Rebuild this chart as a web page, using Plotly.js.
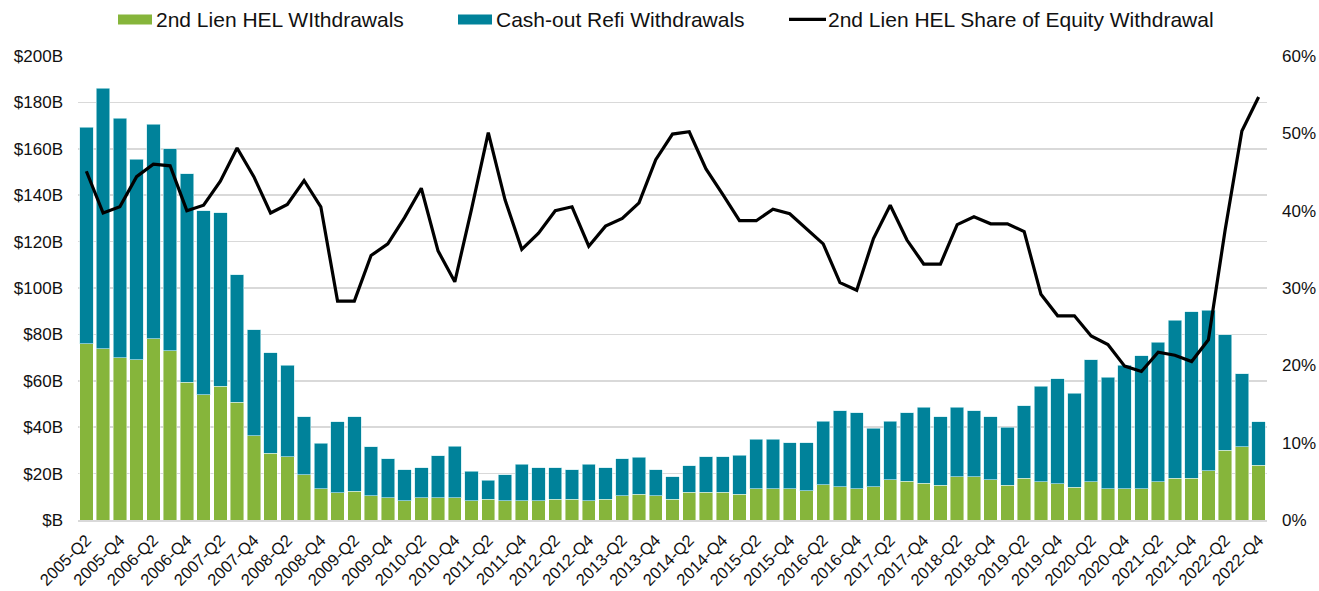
<!DOCTYPE html>
<html>
<head>
<meta charset="utf-8">
<script src="https://cdn.plot.ly/plotly-3.0.1.min.js"></script>
<style>
  html, body { margin: 0; padding: 0; background: #ffffff; }
  #chart { width: 1319px; height: 591px; }
</style>
</head>
<body>
<div id="chart"></div>
<script>
// Quarters (categories)
const quarters = [
  "2005-Q2","2005-Q3","2005-Q4",
  "2006-Q1","2006-Q2","2006-Q3","2006-Q4",
  "2007-Q1","2007-Q2","2007-Q3","2007-Q4",
  "2008-Q1","2008-Q2","2008-Q3","2008-Q4",
  "2009-Q1","2009-Q2","2009-Q3","2009-Q4",
  "2010-Q1","2010-Q2","2010-Q3","2010-Q4",
  "2011-Q1","2011-Q2","2011-Q3","2011-Q4",
  "2012-Q1","2012-Q2","2012-Q3","2012-Q4",
  "2013-Q1","2013-Q2","2013-Q3","2013-Q4",
  "2014-Q1","2014-Q2","2014-Q3","2014-Q4",
  "2015-Q1","2015-Q2","2015-Q3","2015-Q4",
  "2016-Q1","2016-Q2","2016-Q3","2016-Q4",
  "2017-Q1","2017-Q2","2017-Q3","2017-Q4",
  "2018-Q1","2018-Q2","2018-Q3","2018-Q4",
  "2019-Q1","2019-Q2","2019-Q3","2019-Q4",
  "2020-Q1","2020-Q2","2020-Q3","2020-Q4",
  "2021-Q1","2021-Q2","2021-Q3","2021-Q4",
  "2022-Q1","2022-Q2","2022-Q3","2022-Q4"
];

// 2nd Lien HEL withdrawals ($B)
const helWithdrawals = [
  76.0, 73.9, 70.0,
  69.1, 78.2, 73.0, 59.3,
  54.0, 57.6, 50.8, 36.3,
  28.7, 27.2, 19.4, 13.4,
  11.8, 12.5, 10.4, 9.6,
  8.2, 9.6, 9.6, 9.6,
  8.2, 8.9, 8.2, 8.2,
  8.2, 8.9, 8.9, 8.2,
  8.9, 10.4, 11.1, 10.4,
  8.9, 12.0, 12.0, 12.0,
  11.1, 13.5, 13.5, 13.5,
  12.7, 15.1, 14.3, 13.5,
  14.3, 17.4, 16.6, 15.8,
  15.0, 18.7, 18.7, 17.3,
  15.0, 18.0, 16.4, 15.7,
  14.1, 16.4, 13.4, 13.4,
  13.4, 16.4, 18.0, 18.0,
  21.2, 30.1, 31.5, 23.5
];

// Cash-out refi withdrawals ($B)
const cashoutWithdrawals = [
  93.2, 112.1, 103.1,
  86.4, 92.4, 87.1, 90.0,
  79.3, 74.9, 54.9, 45.8,
  43.4, 39.6, 25.2, 19.7,
  30.5, 32.1, 21.1, 16.7,
  13.4, 12.9, 18.2, 22.1,
  12.8, 8.2, 11.2, 15.8,
  14.3, 13.6, 12.8, 15.8,
  13.6, 15.9, 16.0, 11.3,
  9.8, 11.3, 15.2, 15.2,
  16.8, 21.3, 21.3, 19.9,
  20.7, 27.4, 32.8, 32.7,
  25.2, 25.1, 29.6, 32.7,
  29.6, 29.8, 28.4, 27.3,
  25.0, 31.2, 41.2, 45.1,
  40.5, 52.7, 48.1, 53.4,
  57.3, 60.3, 68.0, 71.7,
  69.2, 49.7, 31.6, 18.8
];

// 2nd Lien HEL share of equity withdrawal (%)
const helShare = [
  45.1, 39.7, 40.5,
  44.4, 46.0, 45.8, 40.0,
  40.7, 43.8, 48.1, 44.4,
  39.7, 40.8, 43.9, 40.5,
  28.3, 28.3, 34.2, 35.7,
  39.1, 42.9, 34.8, 30.8,
  40.2, 50.1, 41.4, 35.0,
  37.1, 40.0, 40.5, 35.4,
  38.0, 39.0, 41.0, 46.6,
  49.9, 50.2, 45.4, 42.1,
  38.7, 38.7, 40.2, 39.6,
  37.7, 35.7, 30.7, 29.7,
  36.4, 40.7, 36.2, 33.1,
  33.1, 38.2, 39.2, 38.3,
  38.3, 37.3, 29.2, 26.4,
  26.4, 23.8, 22.7, 19.9,
  19.2, 21.7, 21.3, 20.5,
  23.3, 37.5, 50.3, 54.7
];

// Axis tick labels
const xTickLabels = [
  "2005-Q2","2005-Q4","2006-Q2","2006-Q4","2007-Q2","2007-Q4",
  "2008-Q2","2008-Q4","2009-Q2","2009-Q4","2010-Q2","2010-Q4",
  "2011-Q2","2011-Q4","2012-Q2","2012-Q4","2013-Q2","2013-Q4",
  "2014-Q2","2014-Q4","2015-Q2","2015-Q4","2016-Q2","2016-Q4",
  "2017-Q2","2017-Q4","2018-Q2","2018-Q4","2019-Q2","2019-Q4",
  "2020-Q2","2020-Q4","2021-Q2","2021-Q4","2022-Q2","2022-Q4"
];
const yLeftTickVals = [0, 20, 40, 60, 80, 100, 120, 140, 160, 180, 200];
const yLeftTickText = ["$B","$20B","$40B","$60B","$80B","$100B","$120B","$140B","$160B","$180B","$200B"];
const yRightTickVals = [0, 10, 20, 30, 40, 50, 60];
const yRightTickText = ["0%","10%","20%","30%","40%","50%","60%"];

const seriesNames = ["2nd Lien HEL WIthdrawals", "Cash-out Refi Withdrawals", "2nd Lien HEL Share of Equity Withdrawal"];

const GREEN = "#86B53B";
const TEAL = "#00829A";
const FONT = "'Liberation Sans', Arial, sans-serif";

const traces = [
  {
    type: "bar", name: seriesNames[0], x: quarters, y: helWithdrawals,
    marker: { color: GREEN, line: { color: "rgba(255,255,255,0.55)", width: 0.8 } },
    hoverinfo: "x+y"
  },
  {
    type: "bar", name: seriesNames[1], x: quarters, y: cashoutWithdrawals,
    marker: { color: TEAL, line: { color: "rgba(200,235,240,0.8)", width: 0.8 } },
    hoverinfo: "x+y"
  },
  {
    type: "scatter", mode: "lines", name: seriesNames[2], x: quarters, y: helShare,
    yaxis: "y2", line: { color: "#000000", width: 3.2 }, hoverinfo: "x+y"
  }
];

// custom legend (paper coordinates)
const L = 78, R = 1267, T = 56.5, B = 520;
const px = v => (v - L) / (R - L);
const py = v => (B - v) / (B - T);

const shapes = [
  { type: "rect", xref: "paper", yref: "paper", x0: px(118), x1: px(152), y0: py(25), y1: py(15), fillcolor: GREEN, line: { width: 0 } },
  { type: "rect", xref: "paper", yref: "paper", x0: px(458), x1: px(492), y0: py(25), y1: py(15), fillcolor: TEAL, line: { width: 0 } },
  { type: "line", xref: "paper", yref: "paper", x0: px(789), x1: px(826), y0: py(20), y1: py(20), line: { color: "#000000", width: 3.2 } }
];

const annotations = [
  { text: seriesNames[0], x: px(154), xanchor: "left" },
  { text: seriesNames[1], x: px(494), xanchor: "left" },
  { text: seriesNames[2], x: px(826), xanchor: "left" }
].map(a => Object.assign({
  xref: "paper", yref: "paper", y: py(20), yanchor: "middle", showarrow: false,
  font: { family: FONT, size: 21, color: "#111111" }
}, a));

const layout = {
  width: 1319, height: 591,
  margin: { l: 78, r: 52, t: 56, b: 71, pad: 0 },
  paper_bgcolor: "#ffffff", plot_bgcolor: "#ffffff",
  barmode: "stack", bargap: 0.2,
  showlegend: false,
  font: { family: FONT, size: 17, color: "#111111" },
  xaxis: {
    type: "category",
    tickmode: "array", tickvals: xTickLabels, ticktext: xTickLabels,
    tickangle: -45, tickfont: { family: FONT, size: 16.5, color: "#111111" },
    showgrid: false, zeroline: false,
    showline: true, linecolor: "#d9d9d9", linewidth: 2,
    ticks: "", ticklabelstandoff: 2
  },
  yaxis: {
    range: [0, 200], tickmode: "array", tickvals: yLeftTickVals, ticktext: yLeftTickText,
    showgrid: true, gridcolor: "#d9d9d9", gridwidth: 1.6, zeroline: false,
    tickfont: { family: FONT, size: 17, color: "#111111" },
    ticks: "", ticklabelstandoff: 14, fixedrange: true
  },
  yaxis2: {
    overlaying: "y", side: "right", range: [0, 60],
    tickmode: "array", tickvals: yRightTickVals, ticktext: yRightTickText,
    showgrid: false, zeroline: false,
    tickfont: { family: FONT, size: 17, color: "#111111" },
    ticks: "", ticklabelstandoff: 14, fixedrange: true
  },
  shapes: shapes,
  annotations: annotations
};

Plotly.newPlot("chart", traces, layout, { displayModeBar: false, staticPlot: true });
</script>
</body>
</html>
